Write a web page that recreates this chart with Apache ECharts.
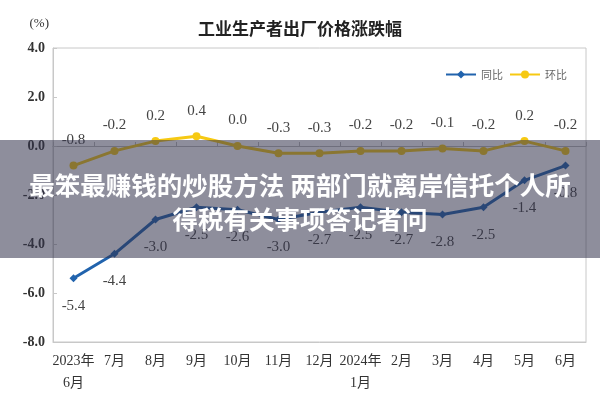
<!DOCTYPE html>
<html>
<head>
<meta charset="utf-8">
<script src="https://cdn.jsdelivr.net/npm/echarts@6/dist/echarts.min.js"></script>
<style>
  html, body { margin: 0; padding: 0; background: #fff; }
  #chart { width: 600px; height: 400px; }
</style>
</head>
<body>
<div id="chart"></div>
<script>
// 月份
var months = ['2023年\n6月', '7月', '8月', '9月', '10月', '11月', '12月', '2024年\n1月', '2月', '3月', '4月', '5月', '6月'];
// 同比
var yoy = [-5.4, -4.4, -3.0, -2.5, -2.6, -3.0, -2.7, -2.5, -2.7, -2.8, -2.5, -1.4, -0.8];
// 环比
var mom = [-0.8, -0.2, 0.2, 0.4, 0.0, -0.3, -0.3, -0.2, -0.2, -0.1, -0.2, 0.2, -0.2];
var yTicks = [-8, -6, -4, -2, 0, 2, 4];

var serif = '"Liberation Serif", "Noto Sans CJK SC", serif';
var blue = '#2163ad';
var yellow = '#f6c913';

var myChart = echarts.init(document.getElementById('chart'));

var option = {
	animation: false,
	title: {
		text: '工业生产者出厂价格涨跌幅',
		left: 'center',
		top: 15,
		textStyle: {
			fontFamily: '"Noto Sans CJK SC"',
			fontSize: 17,
			fontWeight: 'bold',
			color: '#222'
		}
	},
	legend: {
		right: 28,
		top: 64,
		itemWidth: 30,
		itemHeight: 10,
		itemGap: 6,
		textStyle: { fontFamily: '"Noto Sans CJK SC"', fontSize: 11, color: '#666' },
		data: ['同比', '环比']
	},
	grid: {
		left: 53,
		right: 14,
		top: 48,
		bottom: 58,
		show: true,
		borderColor: '#c8c8c8',
		borderWidth: 1
	},
	xAxis: [{
		type: 'category',
		data: months,
		boundaryGap: true,
		axisLine: { onZero: false, lineStyle: { color: '#c8c8c8' } },
		axisTick: { show: false },
		axisLabel: {
			fontFamily: serif,
			fontSize: 14,
			color: '#333',
			margin: 8,
			lineHeight: 22,
			interval: 0
		}
	}, {
		type: 'category',
		data: months,
		position: 'top',
		boundaryGap: true,
		axisLine: { onZero: true, lineStyle: { color: '#bbb' } },
		axisTick: { show: true, length: 4, interval: 0, lineStyle: { color: '#bbb' } },
		axisLabel: { show: false }
	}],
	yAxis: {
		type: 'value',
		min: yTicks[0],
		max: yTicks[yTicks.length - 1],
		interval: 2,
		name: '(%)',
		nameLocation: 'end',
		nameGap: 18,
		nameTextStyle: { fontFamily: serif, fontSize: 13, color: '#333', align: 'right', padding: [0, 4, 0, 0] },
		axisLine: { show: true, lineStyle: { color: '#c8c8c8' } },
		axisTick: { show: true, inside: true, length: 4, lineStyle: { color: '#c8c8c8' } },
		splitLine: { show: false },
		axisLabel: {
			fontFamily: serif,
			fontSize: 14,
			fontWeight: 'bold',
			color: '#333',
			margin: 8,
			formatter: function (v) { return v.toFixed(1); }
		}
	},
	series: [{
		name: '同比',
		type: 'line',
		data: yoy,
		symbol: 'diamond',
		symbolSize: 8,
		lineStyle: { color: blue, width: 3 },
		itemStyle: { color: blue },
		label: {
			show: true,
			position: 'bottom',
			distance: 16,
			fontFamily: serif,
			fontSize: 15,
			color: '#444',
			formatter: function (p) { return p.value.toFixed(1); }
		}
	}, {
		name: '环比',
		type: 'line',
		data: mom,
		symbol: 'circle',
		symbolSize: 8,
		lineStyle: { color: yellow, width: 3 },
		itemStyle: { color: yellow },
		label: {
			show: true,
			position: 'top',
			distance: 14,
			fontFamily: serif,
			fontSize: 15,
			color: '#444',
			formatter: function (p) { return p.value.toFixed(1); }
		}
	}],
	graphic: [{
		type: 'rect',
		left: 0,
		top: 140,
		shape: { width: 600, height: 118 },
		style: { fill: 'rgba(50,50,75,0.55)' },
		z: 100
	}, {
		type: 'text',
		left: 'center',
		top: 168,
		style: {
			text: '最笨最赚钱的炒股方法 两部门就离岸信托个人所\n得税有关事项答记者问',
			fill: '#fff',
			font: 'bold 25.5px "Noto Sans CJK SC"',
			textAlign: 'center',
			lineHeight: 34
		},
		z: 101
	}]
};

myChart.setOption(option);
</script>
</body>
</html>
